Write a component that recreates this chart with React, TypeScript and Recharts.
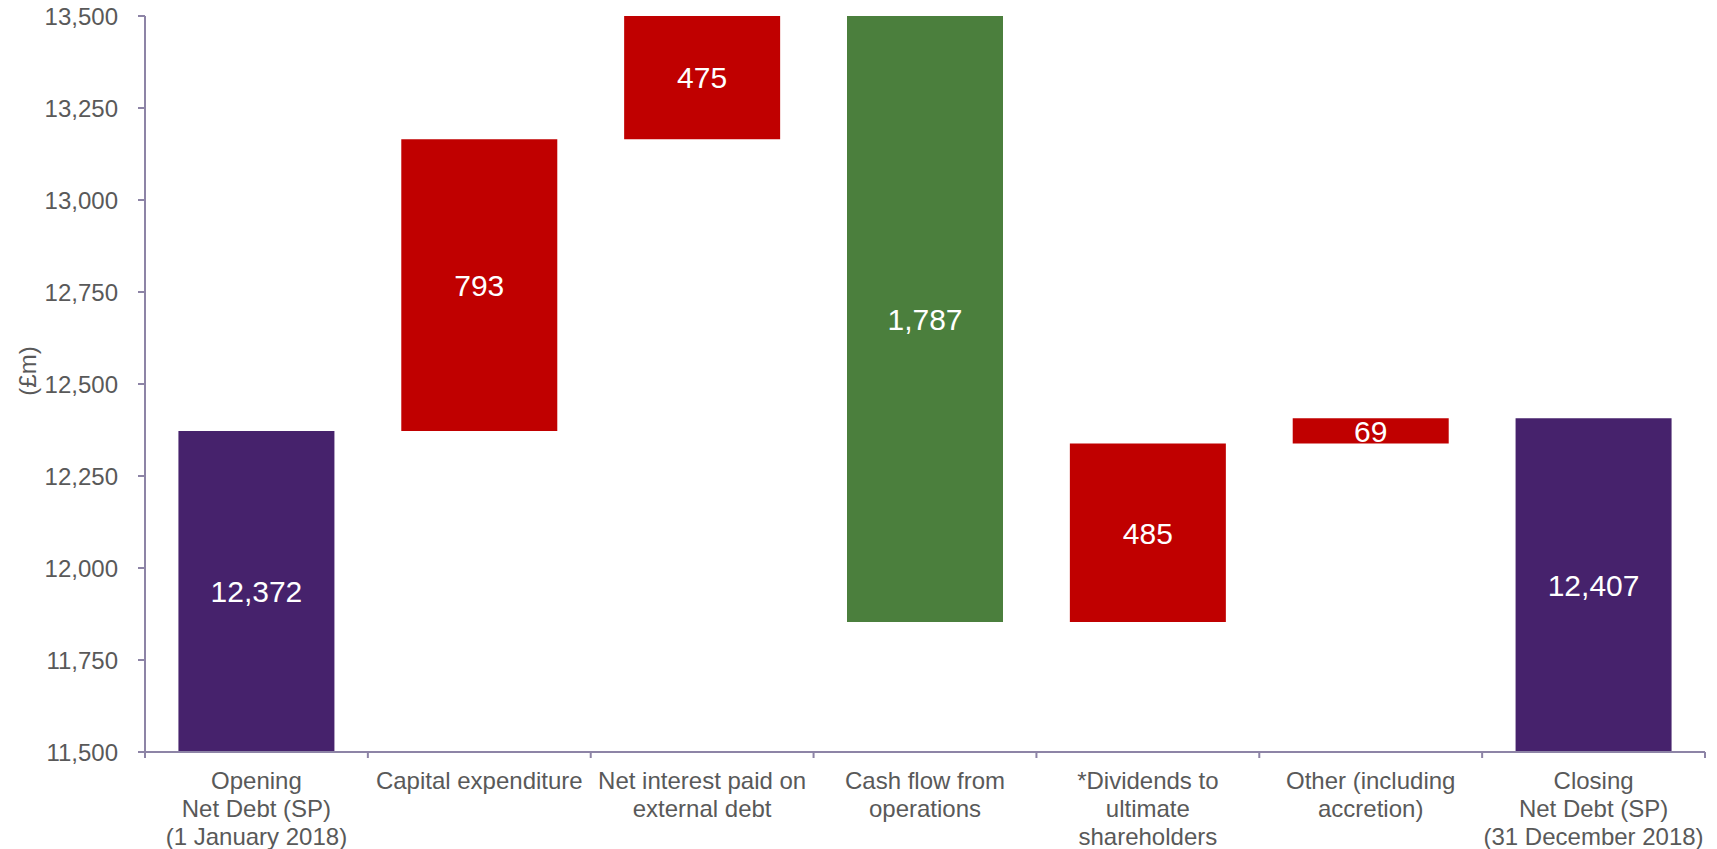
import { Bar, BarChart, Cell, LabelList, XAxis, YAxis } from "recharts";

const categories = [
	"Opening\nNet Debt (SP)\n(1 January 2018)",
	"Capital expenditure",
	"Net interest paid on\nexternal debt",
	"Cash flow from\noperations",
	"*Dividends to\nultimate\nshareholders",
	"Other (including\naccretion)",
	"Closing\nNet Debt (SP)\n(31 December 2018)",
];
const changes = [12372, 793, 475, -1787, 485, 69, 12407];
const kinds = ["total", "increase", "increase", "decrease", "increase", "increase", "total"];
const yTicks = [11500, 11750, 12000, 12250, 12500, 12750, 13000, 13250, 13500];

const colors: Record<string, string> = {
	total: "#46226c",
	increase: "#c00000",
	decrease: "#4b7f3d",
};

const W = 1717;
const H = 849;
const TOP = 16;
const RIGHT = 12;
const Y_AXIS_W = 145;
const X_AXIS_H = 97;
const PLOT_BOTTOM = H - X_AXIS_H;
const FONT = '"Liberation Sans", Arial, Helvetica, sans-serif';
const TEXT = "#595959";
const AXIS = "#8d84a6";

let running = 0;
const data = categories.map((name, i) => {
	let range: [number, number];
	if (kinds[i] === "total") {
		range = [0, changes[i]];
		running = changes[i];
	} else {
		const end = running + changes[i];
		range = [Math.min(running, end), Math.max(running, end)];
		running = end;
	}
	return {
		name,
		range,
		label: Math.abs(changes[i]).toLocaleString("en-US"),
		kind: kinds[i],
	};
});

// category labels plus tick marks on the band edges
const CategoryTick = ({ x, y, payload, index }: any) => {
	const lines = String(payload.value).split("\n");
	const half = payload.offset || (W - Y_AXIS_W - RIGHT) / categories.length / 2;
	return (
		<g>
			<line x1={x - half} x2={x - half} y1={y} y2={y + 6} stroke={AXIS} strokeWidth={2} />
			{index === categories.length - 1 && (
				<line x1={x + half} x2={x + half} y1={y} y2={y + 6} stroke={AXIS} strokeWidth={2} />
			)}
			<text x={x} y={y} textAnchor="middle" fill={TEXT} fontSize={24} fontFamily={FONT}>
				{lines.map((l, i) => (
					<tspan key={i} x={x} dy={i === 0 ? 37 : 28}>
						{l}
					</tspan>
				))}
			</text>
		</g>
	);
};

const ValueLabel = (p: any) => {
	const top = Math.max(Math.min(p.y, p.y + p.height), TOP);
	const bottom = Math.min(Math.max(p.y, p.y + p.height), PLOT_BOTTOM);
	const cy = (top + bottom) / 2;
	return (
		<text
			x={p.x + p.width / 2}
			y={cy}
			dy="0.36em"
			textAnchor="middle"
			fill="#ffffff"
			fontSize={30}
			fontFamily={FONT}
		>
			{p.value}
		</text>
	);
};

const UnitLabel = (p: any) => {
	const vb = p.viewBox || {};
	const cx = 27;
	const cy = (vb.y ?? TOP) + (vb.height ?? PLOT_BOTTOM - TOP) / 2 - 13;
	return (
		<text
			x={cx}
			y={cy}
			transform={`rotate(-90 ${cx} ${cy})`}
			textAnchor="middle"
			dy="0.36em"
			fill={TEXT}
			fontSize={24}
			fontFamily={FONT}
		>
			(£m)
		</text>
	);
};

export default function App() {
	return (
		<div style={{ position: "absolute", left: 0, top: 0, background: "#fff" }}>
			<BarChart
				width={W}
				height={H}
				data={data}
				margin={{ top: TOP, right: RIGHT, left: 0, bottom: 0 }}
				barCategoryGap="15%"
			>
				<XAxis
					dataKey="name"
					height={X_AXIS_H}
					stroke={AXIS}
					strokeWidth={2}
					tickLine={false}
					tickSize={0}
					tickMargin={0}
					interval={0}
					tick={<CategoryTick />}
				/>
				<YAxis
					domain={[11500, 13500]}
					ticks={yTicks}
					allowDataOverflow
					width={Y_AXIS_W}
					tickSize={7}
					tickMargin={20}
					stroke={AXIS}
					strokeWidth={2}
					tick={{ fill: TEXT, fontSize: 24, fontFamily: FONT }}
					tickFormatter={(v: number) => v.toLocaleString("en-US")}
					label={<UnitLabel />}
				/>
				<Bar dataKey="range" isAnimationActive={false}>
					{data.map((d, i) => (
						<Cell key={i} fill={colors[d.kind]} />
					))}
					<LabelList dataKey="label" content={<ValueLabel />} />
				</Bar>
			</BarChart>
		</div>
	);
}
